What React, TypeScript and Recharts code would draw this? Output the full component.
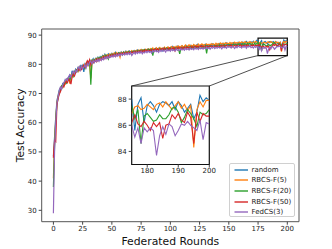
import React from "react";
import {
  LineChart,
  Line,
  XAxis,
  YAxis,
  ReferenceArea,
  ReferenceLine,
} from "recharts";

// federated rounds 0..200
const rounds = Array.from({ length: 201 }, (_, i) => i);

const random = [
  48.5, 55.2, 62.0, 67.5, 69.4, 71.2, 72.0, 71.6, 73.4, 73.0,
  74.6, 73.8, 75.2, 74.9, 76.3, 75.4, 77.8, 76.5, 77.2, 78.3,
  77.6, 78.9, 78.4, 79.5, 78.7, 79.6, 77.4, 80.2, 79.8, 80.9,
  80.1, 81.4, 80.6, 81.2, 81.9, 80.8, 82.0, 81.5, 82.4, 81.7,
  82.6, 82.1, 83.0, 82.3, 83.4, 82.5, 83.1, 83.6, 82.7, 83.3,
  83.8, 83.0, 83.5, 84.1, 83.2, 83.7, 84.0, 83.4, 84.2, 83.6,
  84.3, 83.9, 84.5, 83.7, 84.2, 84.6, 83.8, 84.4, 84.1, 84.7,
  84.0, 84.5, 84.9, 84.2, 84.6, 85.0, 84.3, 84.8, 85.1, 84.5,
  84.9, 85.3, 84.6, 85.0, 84.4, 85.2, 84.8, 85.4, 84.7, 85.1,
  85.5, 84.9, 85.2, 84.6, 85.6, 85.0, 85.3, 85.7, 84.9, 85.4,
  85.8, 85.2, 86.1, 85.5, 85.9, 85.3, 86.2, 85.6, 86.0, 85.4,
  86.3, 85.7, 86.1, 85.5, 86.4, 85.8, 86.0, 86.5, 85.6, 86.2,
  86.6, 85.9, 86.3, 86.8, 86.0, 86.4, 86.1, 86.7, 86.2, 86.5,
  86.9, 86.3, 86.6, 86.0, 86.8, 86.4, 87.0, 86.5, 86.7, 86.2,
  86.9, 86.6, 87.1, 86.4, 86.8, 87.2, 86.5, 86.9, 87.3, 86.7,
  87.0, 86.6, 87.2, 86.8, 87.4, 86.9, 87.1, 86.7, 87.5, 87.0,
  87.3, 86.8, 87.6, 87.1, 87.4, 87.8, 87.0, 87.5, 87.2, 87.7,
  87.4, 87.9, 87.3, 87.6, 88.2,
  88.0, 85.6, 87.6, 88.1, 86.2, 87.5, 87.8, 87.5, 87.0, 87.6,
  87.8, 87.7, 87.5, 87.8, 87.2, 87.8, 87.5, 87.0, 87.3, 87.6,
  86.5, 87.0, 88.3, 87.8, 88.1, 87.9,
];

const rbcs5 = [
  41.0, 53.5, 61.2, 66.8, 69.0, 70.5, 71.8, 72.4, 72.0, 73.6,
  73.2, 74.8, 74.1, 75.5, 73.4, 76.2, 75.6, 77.1, 76.4, 77.9,
  78.2, 77.5, 79.0, 78.1, 79.4, 78.8, 79.9, 79.2, 80.4, 79.6,
  80.8, 79.9, 75.2, 80.6, 81.5, 81.0, 81.8, 80.9, 82.1, 81.6,
  82.3, 81.8, 82.7, 82.2, 83.1, 82.6, 83.3, 82.8, 83.5, 82.9,
  83.6, 83.1, 83.9, 83.4, 84.0, 83.3, 83.8, 82.4, 84.1, 83.7,
  84.2, 83.6, 84.4, 83.9, 84.5, 84.0, 84.3, 84.7, 84.1, 84.6,
  84.3, 84.8, 84.2, 84.9, 84.5, 85.1, 84.6, 85.0, 84.7, 85.2,
  84.8, 85.3, 84.9, 85.4, 85.0, 85.6, 84.9, 85.3, 85.7, 85.1,
  85.4, 85.8, 85.2, 85.6, 85.0, 85.9, 85.4, 85.7, 86.0, 85.5,
  85.8, 86.1, 85.6, 86.0, 85.4, 86.2, 85.8, 86.3, 85.7, 86.1,
  86.4, 85.9, 86.2, 86.6, 86.0, 86.3, 86.7, 86.1, 86.5, 86.2,
  86.8, 86.3, 86.6, 86.1, 86.9, 86.4, 86.7, 87.0, 86.5, 86.8,
  86.4, 87.0, 86.6, 86.9, 86.5, 87.1, 86.7, 87.0, 86.6, 87.2,
  86.8, 87.1, 86.7, 87.3, 86.9, 87.2, 86.8, 87.4, 87.0, 87.3,
  86.9, 87.5, 87.1, 87.4, 87.0, 87.6, 87.2, 87.5, 87.1, 87.6,
  87.3, 87.7, 87.2, 87.5, 87.8, 87.3, 87.6, 87.4, 87.8, 87.5,
  87.2, 87.7, 87.4, 87.9, 87.6,
  86.9, 87.4, 87.5, 87.2, 87.3, 87.6, 87.4, 87.2, 87.6, 87.7,
  87.4, 87.8, 87.5, 87.2, 87.5, 87.8, 87.3, 87.6, 87.1, 87.5,
  84.3, 87.2, 87.8, 87.4, 87.9, 87.9,
];

const rbcs20 = [
  38.0, 52.0, 60.5, 66.2, 68.5, 70.2, 71.0, 72.6, 72.1, 73.2,
  74.0, 73.5, 74.7, 75.3, 74.6, 76.0, 76.8, 75.9, 77.5, 77.0,
  78.1, 77.7, 78.8, 78.3, 79.2, 79.0, 79.5, 78.6, 80.0, 80.5,
  80.2, 81.0, 73.0, 81.3, 80.7, 81.6, 81.2, 82.0, 81.4, 82.3,
  81.9, 82.5, 82.0, 82.9, 82.4, 83.2, 82.6, 81.8, 83.0, 83.4,
  82.9, 83.5, 83.1, 83.8, 83.3, 83.6, 84.0, 83.5, 83.9, 83.2,
  84.1, 83.7, 84.2, 83.8, 84.4, 83.9, 84.3, 84.0, 84.5, 84.2,
  84.6, 84.1, 84.7, 84.3, 84.8, 84.4, 84.9, 84.5, 85.0, 84.6,
  84.9, 85.1, 85.1, 84.7, 85.2, 83.0, 85.0, 85.3, 84.9, 85.2,
  84.8, 85.4, 85.0, 85.3, 84.9, 85.5, 85.1, 85.6, 85.4, 85.0,
  85.6, 85.2, 85.5, 85.1, 85.7, 85.3, 85.6, 85.2, 83.6, 85.4,
  85.7, 85.3, 85.9, 85.5, 86.0, 85.8, 85.4, 86.0, 85.6, 85.9,
  85.5, 86.1, 85.7, 86.0, 85.6, 86.2, 86.2, 85.8, 86.1, 85.7,
  86.3, 83.7, 86.2, 85.8, 86.4, 86.0, 86.3, 85.9, 86.5, 86.1,
  86.4, 86.0, 86.6, 86.2, 86.5, 86.1, 86.7, 86.3, 86.6, 86.2,
  86.8, 86.4, 86.7, 86.3, 86.9, 86.5, 86.8, 86.4, 87.0, 86.6,
  86.9, 86.5, 87.1, 86.7, 87.0, 86.6, 87.2, 86.8, 87.1, 86.7,
  87.0, 86.6, 87.2, 86.8, 87.1,
  87.5, 86.5, 87.2, 84.6, 86.7, 86.9, 86.6, 86.3, 86.4, 86.8,
  86.5, 86.5, 86.8, 87.3, 87.4, 87.0, 86.2, 86.6, 87.2, 86.9,
  86.5, 85.9, 87.0, 86.8, 86.9, 87.2,
];

const rbcs50 = [
  48.0, 54.0, 53.5, 66.0, 68.2, 69.8, 70.6, 71.9, 72.8, 72.3,
  73.5, 74.2, 73.7, 75.0, 74.4, 73.2, 75.8, 76.6, 76.0, 77.3,
  77.8, 78.5, 77.9, 78.7, 78.2, 79.1, 79.7, 78.9, 80.1, 81.2,
  80.4, 81.6, 79.8, 81.1, 80.5, 81.3, 81.0, 81.8, 81.2, 82.0,
  81.5, 82.2, 81.8, 82.6, 82.0, 82.8, 82.3, 83.0, 82.5, 83.2,
  82.7, 83.4, 82.9, 83.5, 83.0, 83.7, 83.2, 83.8, 83.4, 83.9,
  83.5, 84.0, 83.6, 84.1, 83.7, 84.2, 83.8, 84.3, 83.9, 84.4,
  84.0, 84.5, 84.1, 84.6, 84.2, 84.7, 84.3, 84.8, 84.4, 84.9,
  84.5, 84.9, 84.6, 85.0, 84.7, 85.1, 84.8, 85.2, 84.9, 85.3,
  84.9, 85.2, 85.0, 85.4, 85.1, 85.5, 85.2, 85.3, 85.0, 85.6,
  85.2, 85.5, 85.3, 85.7, 84.6, 85.6, 85.4, 85.8, 85.5, 85.7,
  85.3, 85.8, 85.6, 85.9, 85.5, 86.0, 85.7, 85.4, 86.1, 85.8,
  86.0, 85.6, 86.2, 85.9, 86.1, 85.7, 86.3, 86.0, 86.2, 85.8,
  86.0, 86.3, 85.9, 86.2, 86.4, 86.0, 86.3, 85.9, 86.2, 86.4,
  86.1, 86.3, 85.9, 86.4, 86.2, 86.5, 86.0, 86.3, 86.5, 86.1,
  86.4, 86.2, 86.6, 86.0, 86.3, 86.5, 86.1, 86.6, 86.2, 86.4,
  86.7, 86.1, 86.5, 86.3, 86.6, 86.2, 86.7, 86.4, 86.1, 86.6,
  86.3, 86.7, 86.2, 86.5, 86.4,
  86.2, 86.8, 86.1, 85.9, 86.3, 86.0, 85.6, 86.2, 85.9, 86.2,
  85.0, 86.0, 86.1, 86.8, 86.5, 86.9, 86.4, 86.2, 87.0, 86.6,
  84.6, 87.0, 86.3, 86.9, 86.7, 86.7,
];

const fedcs3 = [
  29.0, 50.5, 60.0, 66.5, 68.8, 70.8, 72.2, 71.5, 73.0, 73.8,
  74.3, 75.0, 74.5, 75.8, 76.4, 75.6, 76.9, 77.6, 76.8, 78.0,
  77.4, 78.6, 79.2, 78.0, 79.4, 78.5, 79.0, 79.8, 78.8, 80.3,
  79.6, 80.8, 81.0, 80.2, 81.2, 80.6, 81.5, 80.9, 81.7, 81.0,
  81.9, 81.3, 82.2, 81.6, 82.5, 81.9, 82.7, 82.1, 82.9, 82.4,
  83.0, 82.5, 83.2, 82.6, 83.4, 82.8, 83.5, 82.9, 83.6, 83.1,
  83.7, 83.2, 83.8, 83.3, 83.9, 83.4, 84.0, 83.0, 83.6, 84.1,
  83.5, 84.2, 83.7, 84.3, 83.8, 84.4, 83.6, 84.2, 83.9, 84.5,
  84.0, 84.6, 84.1, 84.4, 83.8, 84.7, 84.2, 84.8, 84.3, 84.6,
  84.1, 84.9, 84.4, 85.0, 84.5, 84.8, 84.2, 85.1, 84.6, 84.9,
  84.5, 85.2, 84.7, 85.0, 84.6, 85.3, 84.8, 85.1, 84.7, 85.4,
  84.9, 85.2, 84.8, 85.5, 85.0, 85.3, 84.9, 85.6, 85.1, 85.4,
  85.0, 85.7, 85.2, 85.5, 85.1, 85.8, 85.3, 85.6, 85.2, 85.7,
  85.3, 85.9, 85.4, 85.7, 85.2, 85.8, 85.5, 86.0, 85.4, 85.8,
  85.5, 86.0, 85.6, 85.9, 85.3, 86.1, 85.7, 85.9, 85.5, 86.2,
  85.8, 86.0, 85.6, 86.2, 85.9, 85.4, 86.1, 85.7, 86.3, 85.9,
  86.0, 85.6, 86.2, 85.8, 86.3, 85.5, 86.1, 85.9, 86.4, 85.7,
  86.0, 85.6, 86.2, 85.8, 86.1,
  86.0, 85.1, 85.8, 84.6, 85.8, 85.5, 85.8, 85.6, 83.7, 85.2,
  85.9, 85.3, 86.1, 85.9, 85.2, 85.6, 86.1, 86.0, 86.3, 86.0,
  85.8, 85.6, 86.4, 84.9, 86.2, 86.1,
];

const series = [
  { key: "random", name: "random", color: "#1f77b4" },
  { key: "rbcs5", name: "RBCS-F(5)", color: "#ff7f0e" },
  { key: "rbcs20", name: "RBCS-F(20)", color: "#2ca02c" },
  { key: "rbcs50", name: "RBCS-F(50)", color: "#d62728" },
  { key: "fedcs3", name: "FedCS(3)", color: "#9467bd" },
];

const xTicks = [0, 25, 50, 75, 100, 125, 150, 175, 200];
const yTicks = [30, 40, 50, 60, 70, 80, 90];
const insetXTicks = [180, 190, 200];
const insetYTicks = [84, 86, 88];

const data = rounds.map((r, i) => ({
  round: r,
  random: random[i],
  rbcs5: rbcs5[i],
  rbcs20: rbcs20[i],
  rbcs50: rbcs50[i],
  fedcs3: fedcs3[i],
}));
const insetData = data.filter((d) => d.round >= 175);

const FONT = "'DejaVu Sans', sans-serif";
const X_DOM: [number, number] = [-10, 210];
const Y_DOM: [number, number] = [26.1, 92.1];
const ZOOM_X: [number, number] = [175, 200];
const ZOOM_Y: [number, number] = [83, 89];

// main plot box in px
const PLOT = { left: 41.7, right: 299, top: 29, bottom: 221.7 };
// inset plot box in px
const INSET = { left: 131.7, right: 209.3, top: 86, bottom: 164.5 };

const pxToX = (px: number) =>
  X_DOM[0] + ((px - PLOT.left) / (PLOT.right - PLOT.left)) * (X_DOM[1] - X_DOM[0]);
const pxToY = (py: number) =>
  Y_DOM[1] - ((py - PLOT.top) / (PLOT.bottom - PLOT.top)) * (Y_DOM[1] - Y_DOM[0]);

const tickStyle = { fontSize: 7, fill: "#222", fontFamily: FONT };
const labelStyle = { fontSize: 10.8, fill: "#111", fontFamily: FONT };

export default function App() {
  return (
    <div style={{ position: "absolute", left: 0, top: 0, width: 332, height: 249, background: "#fff" }}>
      <LineChart
        width={332}
        height={249}
        data={data}
        margin={{ top: PLOT.top, right: 332 - PLOT.right, left: PLOT.left - 30, bottom: 0 }}
      >
        <XAxis
          dataKey="round"
          type="number"
          domain={X_DOM}
          ticks={xTicks}
          allowDataOverflow
          height={249 - PLOT.bottom}
          axisLine={false}
          tickLine={{ stroke: "#444" }}
          tickSize={3}
          tickMargin={1}
          tick={tickStyle}
          label={{
            value: "Federated Rounds",
            position: "insideBottom",
            offset: 4,
            style: labelStyle,
          }}
        />
        <YAxis
          type="number"
          domain={Y_DOM}
          ticks={yTicks}
          allowDataOverflow
          width={30}
          axisLine={false}
          tickLine={{ stroke: "#444" }}
          tickSize={3}
          tickMargin={2}
          tick={tickStyle}
          label={{
            value: "Test Accuracy",
            angle: -90,
            position: "insideLeft",
            offset: 8,
            style: { ...labelStyle, textAnchor: "middle" },
          }}
        />
        <ReferenceArea
          x1={X_DOM[0]}
          x2={X_DOM[1]}
          y1={Y_DOM[0]}
          y2={Y_DOM[1]}
          fill="none"
          stroke="#555"
          strokeWidth={1}
        />
        {series.map((s) => (
          <Line
            key={s.key}
            dataKey={s.key}
            name={s.name}
            stroke={s.color}
            strokeWidth={1.2}
            dot={false}
            isAnimationActive={false}
          />
        ))}
        <ReferenceArea
          x1={ZOOM_X[0]}
          x2={ZOOM_X[1]}
          y1={ZOOM_Y[0]}
          y2={ZOOM_Y[1]}
          fill="none"
          stroke="#111"
          strokeWidth={1.3}
        />
        <ReferenceLine
          segment={[
            { x: ZOOM_X[0], y: ZOOM_Y[0] },
            { x: pxToX(INSET.left), y: pxToY(INSET.top) },
          ]}
          stroke="#222"
          strokeWidth={0.8}
        />
        <ReferenceLine
          segment={[
            { x: ZOOM_X[1], y: ZOOM_Y[0] },
            { x: pxToX(INSET.right), y: pxToY(INSET.top) },
          ]}
          stroke="#222"
          strokeWidth={0.8}
        />
      </LineChart>

      {/* zoomed inset */}
      <div style={{ position: "absolute", left: 100, top: 80, width: 120, height: 100 }}>
        <LineChart
          width={120}
          height={100}
          data={insetData}
          margin={{ top: INSET.top - 80, right: 120 - (INSET.right - 100), left: INSET.left - 100 - 25, bottom: 0 }}
        >
          <XAxis
            dataKey="round"
            type="number"
            domain={ZOOM_X}
            ticks={insetXTicks}
            allowDataOverflow
            height={100 - (INSET.bottom - 80)}
            axisLine={false}
            tickLine={{ stroke: "#444" }}
            tickSize={3}
            tickMargin={1}
            tick={tickStyle}
          />
          <YAxis
            type="number"
            domain={ZOOM_Y}
            ticks={insetYTicks}
            allowDataOverflow
            width={25}
            axisLine={false}
            tickLine={{ stroke: "#444" }}
            tickSize={3}
            tickMargin={2}
            tick={tickStyle}
          />
          <ReferenceArea
            x1={ZOOM_X[0]}
            x2={ZOOM_X[1]}
            y1={ZOOM_Y[0]}
            y2={ZOOM_Y[1]}
            fill="#fff"
            fillOpacity={1}
            stroke="#111"
            strokeWidth={1.2}
          />
          {series.map((s) => (
            <Line
              key={s.key}
              dataKey={s.key}
              stroke={s.color}
              strokeWidth={1.1}
              dot={false}
              isAnimationActive={false}
            />
          ))}
        </LineChart>
      </div>

      {/* legend */}
      <div
        style={{
          position: "absolute",
          left: 228.5,
          top: 162.5,
          width: 66,
          height: 54,
          boxSizing: "border-box",
          border: "1px solid #d0d0d0",
          borderRadius: 2,
          background: "rgba(255,255,255,0.85)",
          fontFamily: FONT,
          fontSize: 7,
          color: "#222",
          paddingTop: 1,
        }}
      >
        {series.map((s) => (
          <div key={s.key} style={{ display: "flex", alignItems: "center", height: 10.6 }}>
            <svg width={22} height={6} style={{ flex: "none" }}>
              <line x1={4.5} x2={18} y1={3} y2={3} stroke={s.color} strokeWidth={1.4} />
            </svg>
            <span style={{ whiteSpace: "nowrap", lineHeight: "10px" }}>{s.name}</span>
          </div>
        ))}
      </div>
    </div>
  );
}
